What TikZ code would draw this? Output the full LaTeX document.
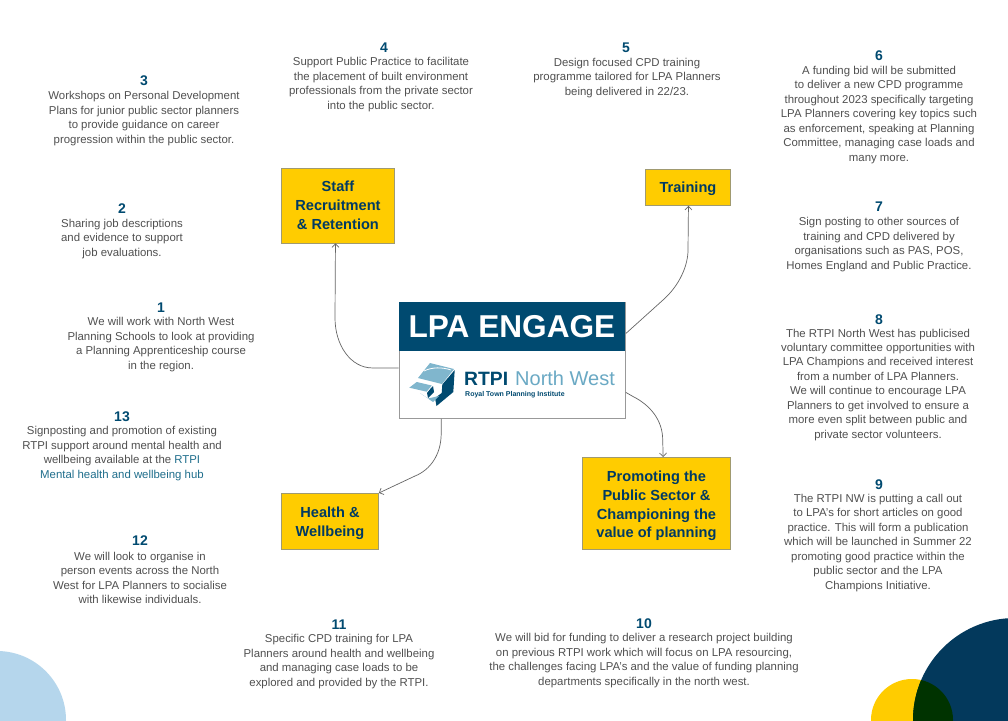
\documentclass[tikz,border=0pt]{standalone}
\usepackage{fontspec}
\setmainfont{Liberation Sans}
\usetikzlibrary{arrows.meta}
\definecolor{navy}{HTML}{003A63}
\definecolor{head}{HTML}{004A70}
\definecolor{gold}{HTML}{FFCC00}
\definecolor{bodyc}{HTML}{505050}
\definecolor{linkc}{HTML}{1F6E8C}
\definecolor{lblue}{HTML}{6AA9C4}
\definecolor{edgeg}{HTML}{A09A70}
\definecolor{cornerb}{HTML}{B5D6EC}
\definecolor{cornern}{HTML}{03395C}
\definecolor{cornero}{HTML}{003300}
\tikzset{
  x=1pt,y=-1pt,
  numlab/.style={font=\fontsize{14}{15}\selectfont\bfseries,text=head,inner sep=0pt,yshift=-0.5pt},
  bodytxt/.style={font=\fontsize{11.4}{14.45}\selectfont,text=bodyc,align=center,inner sep=0pt,yshift=-0.7pt},
  topic/.style={draw=edgeg,line width=0.9pt,fill=gold,text=navy,align=center,inner sep=0pt,
     font=\fontsize{14.6}{18.7}\selectfont\bfseries,anchor=north west},
  link/.style={draw=black!60,line width=0.7pt,-{Straight Barb[length=3.5pt,width=7pt]}},
  logod/.style={fill=head},
  logol/.style={fill=lblue!85!white}
}
\begin{document}
\begin{tikzpicture}
\useasboundingbox (0,0) rectangle (1008,720);
\fill[white] (0,0) rectangle (1008,720);
% corner circles
\begin{scope}
\clip (0,0) rectangle (1008,720);
\fill[cornerb] (-3,720) circle (69);
\fill[gold] (912,720) circle (41);
\fill[cornern] (1015,720) circle (102);
\begin{scope}
\clip (912,720) circle (41);
\fill[cornero] (1015,720) circle (102);
\end{scope}
\end{scope}
% central box
\node[draw=black!40,line width=0.9pt,fill=white,minimum width=226.5pt,minimum height=116pt,inner sep=0pt,anchor=north west] (engage) at (398.5,302) {};
\node[fill=head,text=white,minimum width=226.5pt,minimum height=49pt,inner sep=0pt,anchor=north west,font=\fontsize{31.6}{33}\selectfont\bfseries] (enghead) at (398.5,302) {LPA ENGAGE};
% logo
\fill[logol] (430,363) -- (454,369) -- (442,384) -- (418,378) -- cycle;
\draw[white,line width=0.8pt] (424,371) .. controls (432,367) and (442,367) .. (451,370);
\fill[logod] (454.7,370) -- (453.3,392) -- (436.5,406) -- (435,398) -- (441.7,393) -- (442.3,384.5) -- cycle;
\fill[logol] (409.3,387.7) -- (416.7,382) -- (431.7,385.5) -- (426.7,391.7) -- cycle;
\fill[logod] (431,388) -- (433,386) -- (434,392) -- (428,398) -- (427,393) -- cycle;
\fill[logol] (420,393) -- (428,398.5) -- (439,396) -- (433,402) -- cycle;
\node[inner sep=0pt,anchor=base west,text=head,font=\fontsize{19.3}{22}\selectfont\bfseries] (rtpi) at (464,385) {RTPI};
\node[inner sep=0pt,anchor=base west,text=lblue,font=\fontsize{20}{22}\selectfont] (nw) at (515,385) {North West};
\node[inner sep=0pt,anchor=base west,text=head,font=\fontsize{7}{8}\selectfont\bfseries] (royal) at (465,396) {Royal Town Planning Institute};
% topics
\node[topic,minimum width=113pt,minimum height=75pt] (staff) at (281,167.5) {Staff\\Recruitment\\\& Retention};
\node[topic,minimum width=85pt,minimum height=36pt,text depth=0pt] (train) at (645,169) {Training};
\node[topic,minimum width=97pt,minimum height=56pt] (health) at (281,493) {\rule{0pt}{14.5pt}Health \&\\Wellbeing};
\node[topic,minimum width=148pt,minimum height=92pt] (promo) at (582,457) {\rule{0pt}{15.5pt}Promoting the\\Public Sector \&\\Championing the\\value of planning};
% connectors
\draw[link] ([yshift=-7.5pt]engage.west) -- +(-26,0) .. controls +(-22,0) and (335,345) .. (335,318) -- ([xshift=-2.5pt]staff.south);
\draw[link] ([yshift=27pt]engage.east) -- (663,300) .. controls (680,285) and (688,265) .. (688,250) -- ([xshift=0.5pt]train.south);
\draw[link] ([yshift=-32pt]engage.east) -- +(7,4) .. controls (650,405) and (662.7,420) .. (662.7,440) -- ([xshift=6.7pt]promo.north);
\draw[link] ([xshift=-71pt]engage.south) -- +(0,15) .. controls (441,455) and (430,470) .. (415,476) -- (health.north east);
% numbers and texts
\node[numlab] (n1) at (161,307) {1};
\node[bodytxt] (t1) at (161,344) {We will work with North West\\Planning Schools to look at providing\\a Planning Apprenticeship course\\in the region.};
\node[numlab] (n2) at (122,208) {2};
\node[bodytxt] (t2) at (122,238) {Sharing job descriptions\\and evidence to support\\job evaluations.};
\node[numlab] (n3) at (144,80) {3};
\node[bodytxt] (t3) at (144,118) {Workshops on Personal Development\\Plans for junior public sector planners\\to provide guidance on career\\progression within the public sector.};
\node[numlab] (n4) at (384,47) {4};
\node[bodytxt] (t4) at (381,84) {Support Public Practice to facilitate\\the placement of built environment\\professionals from the private sector\\into the public sector.};
\node[numlab] (n5) at (626,47) {5};
\node[bodytxt] (t5) at (627,77) {Design focused CPD training\\programme tailored for LPA Planners\\being delivered in 22/23.};
\node[numlab] (n6) at (879,55) {6};
\node[bodytxt] (t6) at (879,114) {A funding bid will be submitted\\to deliver a new CPD programme\\throughout 2023 specifically targeting\\LPA Planners covering key topics such\\as enforcement, speaking at Planning\\Committee, managing case loads and\\many more.};
\node[numlab] (n7) at (879,206) {7};
\node[bodytxt] (t7) at (879,244) {Sign posting to other sources of\\training and CPD delivered by\\organisations such as PAS, POS,\\Homes England and Public Practice.};
\node[numlab] (n8) at (879,319) {8};
\node[bodytxt] (t8) at (878,384) {The RTPI North West has publicised\\voluntary committee opportunities with\\LPA Champions and received interest\\from a number of LPA Planners.\\We will continue to encourage LPA\\Planners to get involved to ensure a\\more even split between public and\\private sector volunteers.};
\node[numlab] (n9) at (879,484) {9};
\node[bodytxt] (t9) at (878,542) {The RTPI NW is putting a call out\\to LPA’s for short articles on good\\practice. This will form a publication\\which will be launched in Summer 22\\promoting good practice within the\\public sector and the LPA\\Champions Initiative.};
\node[numlab] (n10) at (644,623) {10};
\node[bodytxt] (t10) at (644,660) {We will bid for funding to deliver a research project building\\on previous RTPI work which will focus on LPA resourcing,\\the challenges facing LPA’s and the value of funding planning\\departments specifically in the north west.};
\node[numlab] (n11) at (339,624) {11};
\node[bodytxt] (t11) at (339,661) {Specific CPD training for LPA\\Planners around health and wellbeing\\and managing case loads to be\\explored and provided by the RTPI.};
\node[numlab] (n12) at (140,540) {12};
\node[bodytxt] (t12) at (140,577) {We will look to organise in\\person events across the North\\West for LPA Planners to socialise\\with likewise individuals.};
\node[numlab] (n13) at (122,416) {13};
\node[bodytxt] (t13) at (122,453) {Signposting and promotion of existing\\RTPI support around mental health and\\wellbeing available at the {\color{linkc}RTPI}\\{\color{linkc}Mental health and wellbeing hub}};
\end{tikzpicture}
\end{document}
